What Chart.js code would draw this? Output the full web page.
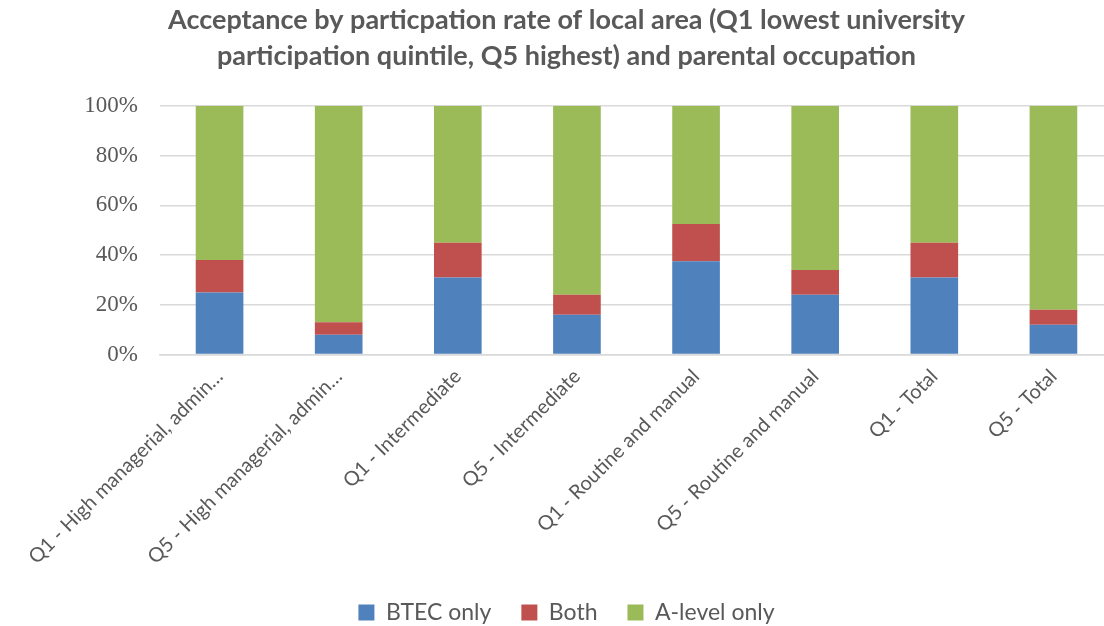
<!DOCTYPE html>
<html>
<head>
<meta charset="utf-8">
<script src="https://cdn.jsdelivr.net/npm/chart.js@4"></script>
<style>
  html, body { margin: 0; padding: 0; background: #fff; overflow: hidden; }
  #wrap { width: 1113px; height: 626px; position: relative; }
</style>
</head>
<body>
<div id="wrap"><canvas id="accChart"></canvas></div>
<script>
// categories and values (percent of acceptances)
const categories = [
    'Q1 - High managerial, admin…',
    'Q5 - High managerial, admin…',
    'Q1 - Intermediate',
    'Q5 - Intermediate',
    'Q1 - Routine and manual',
    'Q5 - Routine and manual',
    'Q1 - Total',
    'Q5 - Total'
];
const btecOnly = [25, 8, 31, 16, 37.5, 24, 31, 12];
const both = [13, 5, 14, 8, 15, 10, 14, 6];
const aLevelOnly = [62, 87, 55, 76, 47.5, 66, 55, 82];
const yTicks = [0, 20, 40, 60, 80, 100];

const textColor = '#595959';

document.addEventListener('DOMContentLoaded', function () {
    const ctx = document.getElementById('accChart').getContext('2d');
    new Chart(ctx, {
        type: 'bar',
        data: {
            labels: categories,
            datasets: [
                {
                    label: 'BTEC only',
                    data: btecOnly,
                    backgroundColor: '#4F81BD'
                },
                {
                    label: 'Both',
                    data: both,
                    backgroundColor: '#C0504D'
                },
                {
                    label: 'A-level only',
                    data: aLevelOnly,
                    backgroundColor: '#9BBB59'
                }
            ]
        },
        options: {
            responsive: true,
            maintainAspectRatio: false,
            animation: false,
            datasets: {
                bar: {
                    barPercentage: 0.4,
                    categoryPercentage: 1.0,
                    borderWidth: 0
                }
            },
            layout: {
                padding: { left: 20, right: 0, top: 2, bottom: -8 }
            },
            scales: {
                x: {
                    stacked: true,
                    grid: { display: false },
                    border: { color: '#d9d9d9', width: 1.5 },
                    ticks: {
                        color: textColor,
                        font: { family: 'Lato', size: 20 },
                        maxRotation: 45,
                        minRotation: 45,
                        autoSkip: false,
                        padding: 2
                    }
                },
                y: {
                    stacked: true,
                    min: 0,
                    max: 100,
                    afterBuildTicks: function (axis) {
                        axis.ticks = yTicks.map(v => ({ value: v }));
                    },
                    afterFit: function (axis) {
                        axis.width = 140;
                    },
                    grid: { color: '#d9d9d9', lineWidth: 1.5, drawTicks: false },
                    border: { display: false },
                    ticks: {
                        color: textColor,
                        font: { family: 'Liberation Serif', size: 23 },
                        padding: 22,
                        callback: function (v) { return v + '%'; }
                    }
                }
            },
            plugins: {
                title: {
                    display: true,
                    text: ['Acceptance by particpation rate of local area (Q1 lowest university',
                           'participation quintile, Q5 highest) and parental occupation'],
                    color: textColor,
                    font: { family: 'Lato', size: 27, weight: 'bold', lineHeight: 1.33 },
                    padding: { top: 0, bottom: 32 }
                },
                legend: {
                    position: 'bottom',
                    labels: {
                        color: textColor,
                        font: { family: 'Lato', size: 23 },
                        boxWidth: 16,
                        boxHeight: 16,
                        padding: 30
                    }
                },
                tooltip: { enabled: false }
            }
        }
    });
});
</script>
</body>
</html>
